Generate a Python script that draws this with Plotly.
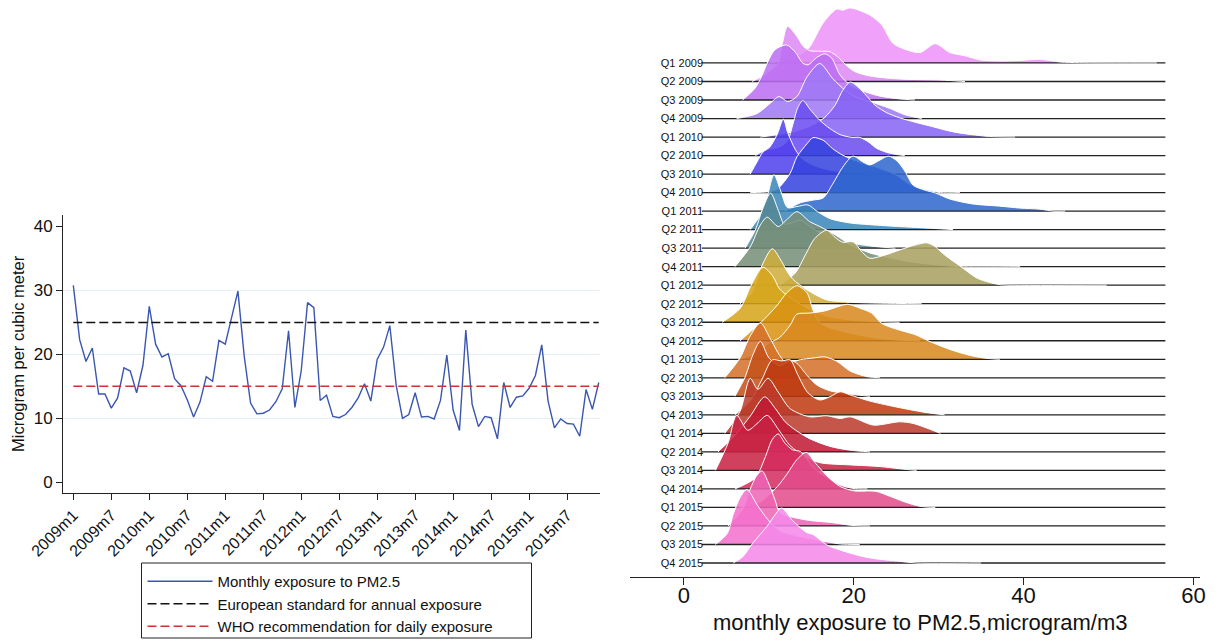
import plotly.graph_objects as go

W, H = 1221, 642
FONT = "Liberation Sans, Arial, sans-serif"

# ---------------- Left panel data ----------------
MONTH_TICK_LABELS = ["2009m1", "2009m7", "2010m1", "2010m7", "2011m1", "2011m7", "2012m1",
                     "2012m7", "2013m1", "2013m7", "2014m1", "2014m7", "2015m1", "2015m7"]
PM25_2009 = [30.8, 22.3, 18.9, 21.0, 13.8, 13.8, 11.6, 13.2, 17.9, 17.4, 14.0, 18.3]
PM25_2010 = [27.5, 21.6, 19.6, 20.1, 16.2, 15.1, 12.9, 10.2, 12.5, 16.5, 15.8, 22.2]
PM25_2011 = [21.6, 25.8, 29.9, 19.7, 12.4, 10.7, 10.8, 11.3, 12.6, 14.6, 23.7, 11.7]
PM25_2012 = [17.4, 28.1, 27.3, 12.8, 13.6, 10.3, 10.1, 10.6, 11.7, 13.2, 15.4, 12.7]
PM25_2013 = [19.2, 21.1, 24.5, 15.2, 10.0, 10.6, 14.0, 10.2, 10.3, 9.9, 12.8, 19.9]
PM25_2014 = [11.3, 8.1, 23.8, 12.2, 8.7, 10.3, 10.1, 6.8, 15.6, 11.7, 13.3, 13.5]
PM25_2015 = [14.7, 16.7, 21.5, 12.7, 8.5, 9.9, 9.2, 9.1, 7.2, 14.5, 11.4, 15.6]
EU_ANNUAL_STANDARD = 25
WHO_DAILY_RECOMMENDATION = 15
Y_TICKS = [0, 10, 20, 30, 40]
GRID_VALUES = [10, 20, 30]

pm25 = PM25_2009 + PM25_2010 + PM25_2011 + PM25_2012 + PM25_2013 + PM25_2014 + PM25_2015
months = list(range(len(pm25)))
month_tick_pos = [6 * i for i in range(len(MONTH_TICK_LABELS))]

# ---------------- Right panel data (density, normalised to peak = 1) ----------------
QUARTERS = ["Q1 2009", "Q2 2009", "Q3 2009", "Q4 2009", "Q1 2010", "Q2 2010", "Q3 2010",
            "Q4 2010", "Q1 2011", "Q2 2011", "Q3 2011", "Q4 2011", "Q1 2012", "Q2 2012",
            "Q3 2012", "Q4 2012", "Q1 2013", "Q2 2013", "Q3 2013", "Q4 2013", "Q1 2014",
            "Q2 2014", "Q3 2014", "Q4 2014", "Q1 2015", "Q2 2015", "Q3 2015", "Q4 2015"]

D_Q1_2009 = [(10.1, 0), (11.9, .05), (13.7, .15), (14.8, .29), (16.4, .73), (18.0, .98), (18.7, .96),
             (19.6, 1.0), (21.9, .87), (23.3, .69), (24.6, .36), (26.0, .25), (27.8, .19), (29.6, .35),
             (31.3, .19), (33.1, .13), (34.9, .055), (37.2, .036), (39.6, .045), (41.9, .067),
             (44.3, .018), (46.6, .005), (55.7, 0)]
D_Q2_2009 = [(8.0, 0), (9.5, .12), (11.1, .34), (11.6, .7), (12.2, 1.0), (13.3, .82), (14.0, .65),
             (14.8, .56), (16.0, .55), (17.2, .54), (18.1, .45), (19.0, .31), (20.1, .18), (21.9, .1),
             (25.4, .045), (30.2, .027), (33.1, 0)]
D_Q3_2009 = [(6.9, 0), (8.4, .22), (9.2, .45), (9.8, .67), (10.7, .91), (12.1, 1.0), (13.1, .87),
             (14.0, .67), (14.6, .64), (15.7, .78), (16.6, .84), (17.4, .76), (18.4, .45), (19.6, .27),
             (21.3, .15), (23.1, .07), (25.4, .02), (27.2, 0)]
D_Q4_2009 = [(6.2, 0), (8.6, .09), (10.1, .27), (11.2, .4), (12.2, .31), (13.3, .4), (14.5, .76),
             (16.0, 1.0), (17.5, .73), (19.0, .51), (20.1, .4), (21.9, .31), (24.3, .18), (26.0, .07),
             (28.0, 0)]
D_Q1_2010 = [(9.0, 0), (11.3, .05), (13.7, .13), (15.4, .24), (16.6, .36), (17.8, .58), (18.7, .85),
             (19.6, 1.0), (20.5, .91), (21.5, .75), (22.5, .58), (23.9, .44), (25.4, .35), (27.2, .27),
             (29.0, .2), (30.7, .13), (32.2, .08), (34.3, .036), (36.0, .01), (39.0, 0)]
D_Q2_2010 = [(8.4, 0), (9.5, .09), (11.3, .16), (12.2, .27), (12.8, .55), (13.4, .87), (14.0, 1.0),
             (14.8, .85), (16.0, .64), (17.2, .49), (18.4, .38), (19.8, .33), (20.7, .33), (21.7, .25),
             (22.7, .13), (24.3, .04), (26.0, 0)]
D_Q3_2010 = [(7.8, 0), (8.6, .22), (9.3, .4), (10.1, .49), (11.0, .73), (11.7, 1.0), (12.2, .76),
             (13.1, .45), (14.0, .27), (15.4, .15), (17.2, .07), (19.6, .036), (21.9, 0)]
D_Q4_2010 = [(7.8, 0), (10.1, .02), (11.1, .08), (12.5, .35), (13.3, .65), (14.5, .89), (15.2, 1.0),
             (16.4, .95), (17.5, .8), (18.7, .68), (20.7, .55), (23.1, .44), (24.9, .33), (26.6, .15),
             (28.4, .055), (30.2, 0), (32.5, 0)]
D_Q1_2011 = [(11.9, 0), (13.7, .15), (15.2, .2), (16.4, .24), (17.5, .49), (18.7, .8), (19.9, 1.0),
             (21.0, .9), (21.9, .84), (23.1, .93), (24.1, 1.0), (25.1, .91), (26.0, .73), (27.0, .47),
             (28.4, .38), (29.6, .33), (31.3, .22), (34.0, .13), (37.2, .09), (39.6, .055),
             (41.9, .036), (43.5, 0), (44.9, 0)]
D_Q2_2011 = [(7.8, 0), (9.0, .27), (9.8, .6), (10.6, 1.0), (11.4, .7), (12.2, .4), (13.3, .42),
             (14.6, .45), (15.7, .33), (17.2, .2), (19.6, .12), (21.9, .09), (25.4, .055), (27.8, .036),
             (30.2, .015), (31.7, 0)]
D_Q3_2011 = [(7.2, 0), (8.4, .33), (9.3, .73), (10.2, 1.0), (11.1, .69), (11.8, .44), (12.5, .45),
             (13.7, .51), (14.8, .4), (16.6, .22), (19.0, .11), (21.9, .04), (24.9, 0)]
D_Q4_2011 = [(6.0, 0), (7.8, .36), (9.0, .76), (9.8, .9), (11.1, .73), (12.2, .87), (13.3, 1.0),
             (14.8, .82), (16.0, .73), (17.8, .58), (19.6, .4), (21.9, .25), (24.3, .16), (26.6, .09),
             (29.6, .036), (32.5, 0), (39.6, 0)]
D_Q1_2012 = [(11.3, 0), (13.1, .22), (14.3, .55), (15.4, .85), (16.8, 1.0), (17.8, .87), (18.7, .78),
             (19.9, .79), (21.0, .6), (21.9, .49), (23.7, .55), (25.4, .64), (27.2, .73), (28.6, .77),
             (29.6, .7), (30.7, .55), (32.5, .35), (34.5, .13), (36.0, .05), (37.2, .01), (38.4, 0),
             (49.8, 0)]
D_Q2_2012 = [(6.6, 0), (8.0, .2), (9.2, .7), (10.4, 1.0), (11.3, .82), (12.1, .6), (12.8, .45),
             (14.5, .25), (16.8, .07), (19.2, .03), (23.1, .01), (28.0, 0)]
D_Q3_2012 = [(4.5, 0), (6.6, .25), (8.0, .7), (9.3, 1.0), (10.4, .85), (11.3, .6), (12.5, .45),
             (13.7, .33), (15.2, .2), (17.2, .1), (19.6, .04), (23.1, .01), (25.4, 0)]
D_Q4_2012 = [(6.6, 0), (8.1, .2), (9.5, .4), (11.0, .65), (12.1, .87), (13.3, 1.0), (14.5, .87),
             (15.1, .6), (15.8, .36), (16.6, .27), (18.4, .18), (20.7, .1), (23.1, .04), (25.4, .01),
             (27.8, 0)]
D_Q1_2013 = [(6.4, 0), (8.4, .1), (10.1, .3), (11.3, .4), (12.5, .62), (13.3, .82), (14.8, .84),
             (16.6, .88), (18.4, .97), (19.3, 1.0), (20.7, .93), (22.1, .84), (23.3, .65), (25.4, .53),
             (27.2, .45), (29.0, .32), (31.3, .18), (33.7, .07), (35.5, .02), (37.2, 0)]
D_Q2_2013 = [(4.8, 0), (6.6, .36), (7.8, .76), (9.0, 1.0), (10.1, .73), (11.3, .4), (12.1, .27),
             (13.7, .33), (15.2, .36), (16.6, .38), (18.0, .3), (19.6, .12), (21.6, .02), (23.1, 0)]
D_Q3_2013 = [(6.0, 0), (7.2, .35), (8.1, .75), (9.0, 1.0), (10.0, .7), (11.3, .56), (12.5, .65),
             (13.3, .6), (14.5, .38), (15.7, .2), (17.2, .1), (19.6, .04), (21.9, 0)]
D_Q4_2013 = [(6.0, 0), (7.8, .25), (9.2, .65), (10.4, 1.0), (11.5, .98), (12.5, 1.0), (13.4, .73),
             (14.6, .4), (16.0, .27), (17.2, .33), (18.4, .42), (19.6, .36), (21.9, .25), (25.4, .13),
             (28.6, .04), (30.7, 0)]
D_Q1_2014 = [(4.8, 0), (6.6, .4), (7.8, 1.0), (8.7, .8), (9.9, 1.0), (11.1, .75), (12.5, .45),
             (14.8, .3), (16.8, .32), (18.4, .27), (19.6, .3), (22.3, .15), (25.4, .21), (27.0, .18),
             (30.2, 0)]
D_Q2_2014 = [(4.0, 0), (6.0, .3), (7.8, .65), (9.5, 1.0), (10.7, .8), (11.9, .55), (13.1, .4),
             (14.8, .24), (17.2, .1), (19.6, .03), (21.9, 0)]
D_Q3_2014 = [(3.7, 0), (5.2, .5), (6.2, 1.0), (7.5, .73), (8.6, .85), (9.8, 1.0), (11.1, .75),
             (12.5, .45), (14.3, .25), (16.0, .14), (19.6, .1), (23.1, .07), (25.4, .03), (27.4, 0)]
D_Q4_2014 = [(6.0, 0), (8.4, .2), (9.5, .55), (10.4, .9), (11.1, 1.0), (11.9, .83), (12.8, .71),
             (13.7, .68), (15.2, .4), (16.0, .29), (18.4, .07), (19.9, .01), (21.6, 0)]
D_Q1_2015 = [(6.6, 0), (9.0, .1), (11.0, .38), (12.1, .6), (13.3, .87), (14.4, 1.0), (15.4, .82),
             (16.8, .58), (18.4, .38), (20.1, .3), (21.9, .3), (22.7, .29), (24.3, .2), (26.0, .1),
             (27.8, .02), (29.6, 0)]
D_Q2_2015 = [(5.2, 0), (6.9, .3), (7.8, .67), (8.5, .9), (9.2, 1.0), (9.9, .8), (10.7, .48),
             (11.3, .24), (12.8, .16), (14.8, .1), (17.5, .06), (19.8, .01), (21.9, 0)]
D_Q3_2015 = [(3.7, 0), (5.1, .2), (5.8, .55), (6.6, .85), (7.4, 1.0), (8.7, .7), (9.9, .45),
             (11.3, .25), (13.3, .16), (14.8, .11), (16.8, .05), (18.4, .01), (20.7, 0)]
D_Q4_2015 = [(5.8, 0), (6.9, .11), (8.1, .36), (9.8, .67), (10.7, .87), (11.5, 1.0), (12.8, .77),
             (14.5, .55), (15.2, .52), (16.8, .33), (18.7, .22), (21.6, .1), (25.4, .03), (27.4, 0),
             (35.0, 0)]

RIDGE_COLORS = ["#EE93F9", "#DE88F5", "#BA6EF2", "#9E78F5", "#8763F4", "#6A4CF0", "#4F40EE",
                "#3442DE", "#2F66CD", "#3A86BA", "#558896", "#778F78", "#A8A060", "#CFAE3A",
                "#D6A418", "#D99210", "#D8881E", "#D4702A", "#C4501A", "#BF3A12", "#BC3A2C",
                "#C01A34", "#C82244", "#D42C60", "#E24C8A", "#EE64B4", "#F470CE", "#F588EA"]
BASELINE_RANGE = [2.1, 56.7]
X2_TICKS = [0, 20, 40, 60]

RIDGES = [D_Q1_2009, D_Q2_2009, D_Q3_2009, D_Q4_2009, D_Q1_2010, D_Q2_2010, D_Q3_2010,
          D_Q4_2010, D_Q1_2011, D_Q2_2011, D_Q3_2011, D_Q4_2011, D_Q1_2012, D_Q2_2012,
          D_Q3_2012, D_Q4_2012, D_Q1_2013, D_Q2_2013, D_Q3_2013, D_Q4_2013, D_Q1_2014,
          D_Q2_2014, D_Q3_2014, D_Q4_2014, D_Q1_2015, D_Q2_2015, D_Q3_2015, D_Q4_2015]

RIDGE_HEIGHT = 2.97  # peak height in row spacings


def rgba(hexc, a):
    h = hexc.lstrip("#")
    return "rgba(%d,%d,%d,%.2f)" % (int(h[0:2], 16), int(h[2:4], 16), int(h[4:6], 16), a)


fig = go.Figure()

# ---- left panel traces ----
fig.add_trace(go.Scatter(x=months, y=pm25, mode="lines", name="Monthly exposure to PM2.5",
                         line=dict(color="#3A56B0", width=1.4), xaxis="x", yaxis="y"))
fig.add_trace(go.Scatter(x=[months[0], months[-1]], y=[EU_ANNUAL_STANDARD] * 2, mode="lines",
                         name="European standard for annual exposure",
                         line=dict(color="#111111", width=1.5, dash="9px,4px"), xaxis="x", yaxis="y"))
fig.add_trace(go.Scatter(x=[months[0], months[-1]], y=[WHO_DAILY_RECOMMENDATION] * 2, mode="lines",
                         name="WHO recommendation for daily exposure",
                         line=dict(color="#CC3333", width=1.5, dash="9px,4px"), xaxis="x", yaxis="y"))

# ---- right panel ridges ----
n = len(QUARTERS)
for k, (q, dens, col) in enumerate(zip(QUARTERS, RIDGES, RIDGE_COLORS)):
    base = n - 1 - k
    fig.add_trace(go.Scatter(x=BASELINE_RANGE, y=[base, base], mode="lines",
                             line=dict(color="#222222", width=1.3), showlegend=False,
                             hoverinfo="skip", xaxis="x2", yaxis="y2"))
    xs = [p[0] for p in dens]
    ys = [base + p[1] * RIDGE_HEIGHT for p in dens]
    fig.add_trace(go.Scatter(x=xs, y=ys, mode="lines", fill="tonexty", fillcolor=rgba(col, 0.86),
                             line=dict(color="white", width=1, shape="spline", smoothing=0.8),
                             showlegend=False, name=q, xaxis="x2", yaxis="y2"))

x_px = lambda p: p / W
y_px = lambda p: 1 - p / H

# grid lines left + legend frame
shapes = []
for g in GRID_VALUES:
    shapes.append(dict(type="line", xref="x domain", yref="y", x0=0, x1=1, y0=g, y1=g,
                       line=dict(color="#E3EDF3", width=1), layer="below"))
shapes.append(dict(type="rect", xref="paper", yref="paper", x0=x_px(141.5), x1=x_px(531.5),
                   y0=y_px(638), y1=y_px(563), line=dict(color="#222222", width=1),
                   fillcolor="rgba(0,0,0,0)", layer="above"))

fig.update_layout(
    width=W, height=H, margin=dict(l=0, r=0, t=0, b=0, autoexpand=False),
    paper_bgcolor="white", plot_bgcolor="white",
    font=dict(family=FONT, color="#111111"),
    shapes=shapes,
    showlegend=True,
    legend=dict(x=x_px(142.5), y=y_px(565), xanchor="left", yanchor="top",
                borderwidth=0, bgcolor="rgba(0,0,0,0)", traceorder="normal",
                font=dict(size=15, family=FONT, color="#111111"),
                itemwidth=65, tracegroupgap=0),
    xaxis=dict(domain=[x_px(63), x_px(600)], range=[-1.63, 83.2], tickvals=month_tick_pos,
               ticktext=MONTH_TICK_LABELS, tickangle=-45, ticks="outside", ticklen=6,
               tickcolor="#222", showline=True, linecolor="#222", linewidth=1, showgrid=False,
               zeroline=False, tickfont=dict(size=16, family=FONT, color="#111"), anchor="y",
               automargin=False),
    yaxis=dict(domain=[y_px(492.7), y_px(215)], range=[-1.63, 41.8], tickvals=Y_TICKS,
               ticks="outside", ticklen=6, tickcolor="#222", showline=True, linecolor="#222",
               linewidth=1, showgrid=False, zeroline=False,
               tickfont=dict(size=17, family=FONT, color="#111"), anchor="x", automargin=False),
    xaxis2=dict(domain=[x_px(630), x_px(1200)], range=[-6.36, 60.78], tickvals=X2_TICKS,
                ticks="outside", ticklen=7, tickcolor="#222", showline=True, linecolor="#222",
                linewidth=1, showgrid=False, zeroline=False, ticklabelstandoff=-8,
                tickfont=dict(size=22, family=FONT, color="#111"), anchor="y2", automargin=False),
    yaxis2=dict(domain=[y_px(576.7), 1], range=[-0.74, 30.40], anchor="free",
                position=x_px(703), tickvals=[n - 1 - k for k in range(n)], ticktext=QUARTERS,
                ticks="", showline=False, showgrid=False, zeroline=False, automargin=False,
                tickfont=dict(size=11, family=FONT, color="#111")),
    annotations=[
        dict(text="Microgram per cubic meter", xref="paper", yref="paper", x=x_px(18),
             y=y_px(354), textangle=-90, showarrow=False, xanchor="center", yanchor="middle",
             font=dict(size=16.5, family=FONT, color="#111")),
        dict(text="monthly exposure to PM2.5,microgram/m3", xref="paper", yref="paper",
             x=x_px(920), y=y_px(622), showarrow=False, xanchor="center", yanchor="middle",
             font=dict(size=22, family=FONT, color="#111")),
    ],
)

fig.write_html("out.html")
